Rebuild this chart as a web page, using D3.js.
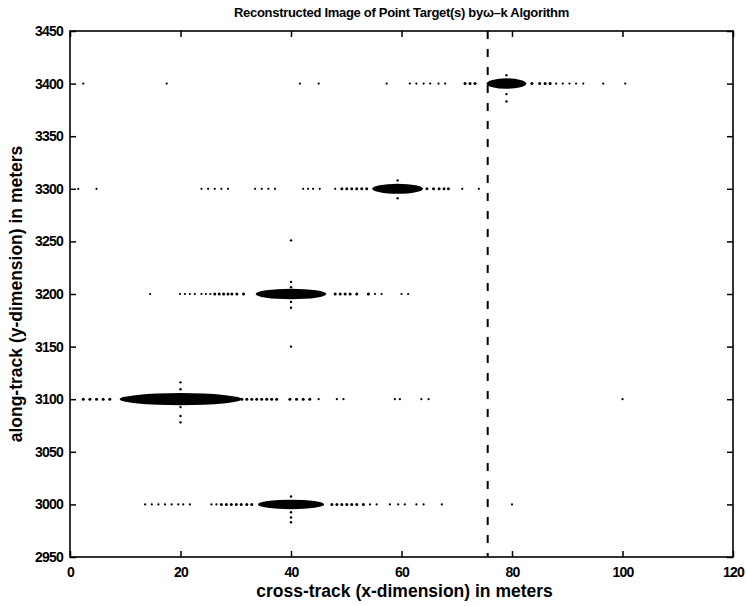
<!DOCTYPE html>
<html>
<head>
<meta charset="utf-8">
<script src="https://cdn.jsdelivr.net/npm/d3@7"></script>
<style>
  html, body { margin: 0; padding: 0; background: #fff; }
  svg { display: block; }
  text { font-family: "Liberation Sans", Arial, sans-serif; font-weight: bold; fill: #000; }
</style>
</head>
<body>
<svg id="chart" width="746" height="606"></svg>
<script>
// Axis ticks
const xTicks = [0, 20, 40, 60, 80, 100, 120];
const yTicks = [2950, 3000, 3050, 3100, 3150, 3200, 3250, 3300, 3350, 3400, 3450];

// Point targets: reconstructed main lobes (centre, half-extent in metres)
const targetX = [40, 20, 40, 59.3, 79];
const targetY = [3000, 3100, 3200, 3300, 3400];
const lobeHalfX = [6, 11, 6.4, 4.6, 3.6];
const lobeHalfY = [4.5, 5.8, 5, 4.8, 5];

// Cross-track sidelobe samples along each target row (x in metres)
const sidelobes3000 = [13.6, 14.8, 16, 17.2, 18.4, 19.6, 20.5, 21.7, 25.6, 26.5, 27.4, 28.3, 29.2, 30.1, 31, 32, 32.9,
  47.4, 48.3, 49.2, 50.1, 51, 51.9, 53.1, 54.3, 55.5, 57.9, 59.4, 60.6, 62.7, 64, 67.3, 80];
const sidelobes3100 = [2.4, 3.6, 4.8, 6, 7.2, 30.2, 31.1, 32, 32.9, 33.8, 34.7, 35.6, 36.5, 37.4, 39.8,
  41, 42.2, 43.4, 45, 48.3, 49.5, 58.8, 59.7, 63.6, 64.9, 100];
const sidelobes3200 = [14.5, 19.9, 20.8, 21.7, 22.6, 23.8, 24.6, 25.4, 26.2, 27, 27.8, 28.6, 29.3, 30.2, 31.4,
  48, 48.9, 49.8, 50.7, 51.9, 54, 55.2, 56.4, 60, 61.2];
const sidelobes3300 = [1.5, 4.8, 23.8, 25, 26.2, 27.4, 28.6, 33.5, 34.7, 35.9, 37.1, 42.2, 43.1, 44, 45.2,
  48, 49.2, 50.1, 51, 51.9, 52.8, 53.7, 64.6, 65.8, 66.8, 67.7, 68.5, 71, 74];
const sidelobes3400 = [2.4, 17.5, 41.6, 45, 57.3, 61.5, 62.7, 64, 65.2, 66.7, 67.9, 71.5, 72.4, 73.3,
  83.6, 85, 86, 86.9, 88, 89.2, 90.4, 91.6, 92.9, 96.5, 100.5];

// Along-track sidelobe samples above/below each target (offset in metres)
const along3000 = [7.5, -7.5, -12.5, -17];
const along3100 = [16, 9.5, -7.5, -16, -22];
const along3200 = [11.5, 6.5, -7.5, -13];
const along3300 = [8, -9];
const along3400 = [8, -10, -17];

// Isolated returns
const strayX = [40, 40];
const strayY = [3150, 3251];

// Scene boundary marker (cross-track)
const boundaryX = 75.6;

const rowsCross = [sidelobes3000, sidelobes3100, sidelobes3200, sidelobes3300, sidelobes3400];
const rowsAlong = [along3000, along3100, along3200, along3300, along3400];

const margin = { left: 70, right: 13, top: 31, bottom: 49 };
const W = 746, H = 606;
const svg = d3.select("#chart");

const x = d3.scaleLinear().domain([0, 120]).range([margin.left, W - margin.right]);
const y = d3.scaleLinear().domain([2950, 3450]).range([H - margin.bottom, margin.top]);

const plot = svg.append("g");

// Main lobes
plot.selectAll("ellipse.lobe")
  .data(targetX.map((d, i) => ({ cx: d, cy: targetY[i], hx: lobeHalfX[i], hy: lobeHalfY[i] })))
  .join("ellipse")
  .attr("class", "lobe")
  .attr("cx", d => x(d.cx))
  .attr("cy", d => y(d.cy))
  .attr("rx", d => x(d.cx + d.hx) - x(d.cx))
  .attr("ry", d => y(d.cy) - y(d.cy + d.hy))
  .attr("fill", "#000");

// Cross-track sidelobes
const crossPts = [];
rowsCross.forEach((row, i) => row.forEach(v => crossPts.push({ x: v, y: targetY[i], near: Math.abs(v - targetX[i]) < lobeHalfX[i] * 2.2 })));
plot.selectAll("circle.cross")
  .data(crossPts)
  .join("circle")
  .attr("class", "cross")
  .attr("cx", d => x(d.x))
  .attr("cy", d => y(d.y))
  .attr("r", d => d.near ? 1.5 : 1.1)
  .attr("fill", "#000");

// Along-track sidelobes
const alongPts = [];
rowsAlong.forEach((row, i) => row.forEach(v => alongPts.push({ x: targetX[i], y: targetY[i] + v })));
strayX.forEach((v, i) => alongPts.push({ x: v, y: strayY[i] }));
plot.selectAll("circle.along")
  .data(alongPts)
  .join("circle")
  .attr("class", "along")
  .attr("cx", d => x(d.x))
  .attr("cy", d => y(d.y))
  .attr("r", 1.2)
  .attr("fill", "#000");

// Boundary line
plot.append("line")
  .attr("x1", x(boundaryX)).attr("x2", x(boundaryX))
  .attr("y1", y(3450)).attr("y2", y(2950))
  .attr("stroke", "#000").attr("stroke-width", 2)
  .attr("stroke-dasharray", "8,10");

// Frame
svg.append("rect")
  .attr("x", x(0)).attr("y", y(3450))
  .attr("width", x(120) - x(0)).attr("height", y(2950) - y(3450))
  .attr("fill", "none").attr("stroke", "#000").attr("stroke-width", 1.6);

const tickLen = 6;
const fmt = d3.format("d");
const bottomAxis = d3.axisBottom(x).tickValues(xTicks).tickFormat(fmt).tickSizeInner(-tickLen).tickSizeOuter(0).tickPadding(10);
const topAxis = d3.axisTop(x).tickValues(xTicks).tickSizeInner(-tickLen).tickSizeOuter(0).tickFormat("");
const leftAxis = d3.axisLeft(y).tickValues(yTicks).tickFormat(fmt).tickSizeInner(-tickLen).tickSizeOuter(0).tickPadding(7);
const rightAxis = d3.axisRight(y).tickValues(yTicks).tickSizeInner(-tickLen).tickSizeOuter(0).tickFormat("");

function styleAxis(g) {
  g.select(".domain").remove();
  g.selectAll(".tick line").attr("stroke", "#000").attr("stroke-width", 1.5);
  g.selectAll(".tick text")
    .style("font-family", "'Liberation Sans', Arial, sans-serif")
    .style("font-weight", "bold").style("font-size", "14px")
    .style("letter-spacing", "-0.8px").attr("fill", "#000");
}

svg.append("g").attr("transform", `translate(0,${y(2950)})`).call(bottomAxis).call(styleAxis);
svg.append("g").attr("transform", `translate(0,${y(3450)})`).call(topAxis).call(styleAxis);
svg.append("g").attr("transform", `translate(${x(0)},0)`).call(leftAxis).call(styleAxis);
svg.append("g").attr("transform", `translate(${x(120)},0)`).call(rightAxis).call(styleAxis);

// Titles
svg.append("text")
  .attr("x", (x(0) + x(120)) / 2).attr("y", 17)
  .attr("text-anchor", "middle")
  .style("font-size", "13px").style("letter-spacing", "-0.3px")
  .text("Reconstructed Image of Point Target(s) by\u03c9\u2013k  Algorithm");

svg.append("text")
  .attr("x", (x(0) + x(120)) / 2 + 3).attr("y", 597)
  .attr("text-anchor", "middle")
  .style("font-size", "17.5px").style("letter-spacing", "0px")
  .text("cross-track (x-dimension) in meters");

svg.append("text")
  .attr("transform", `translate(22,${(y(2950) + y(3450)) / 2}) rotate(-90)`)
  .attr("text-anchor", "middle")
  .style("font-size", "17.5px").style("letter-spacing", "0px")
  .text("along-track (y-dimension) in meters");
</script>
</body>
</html>
